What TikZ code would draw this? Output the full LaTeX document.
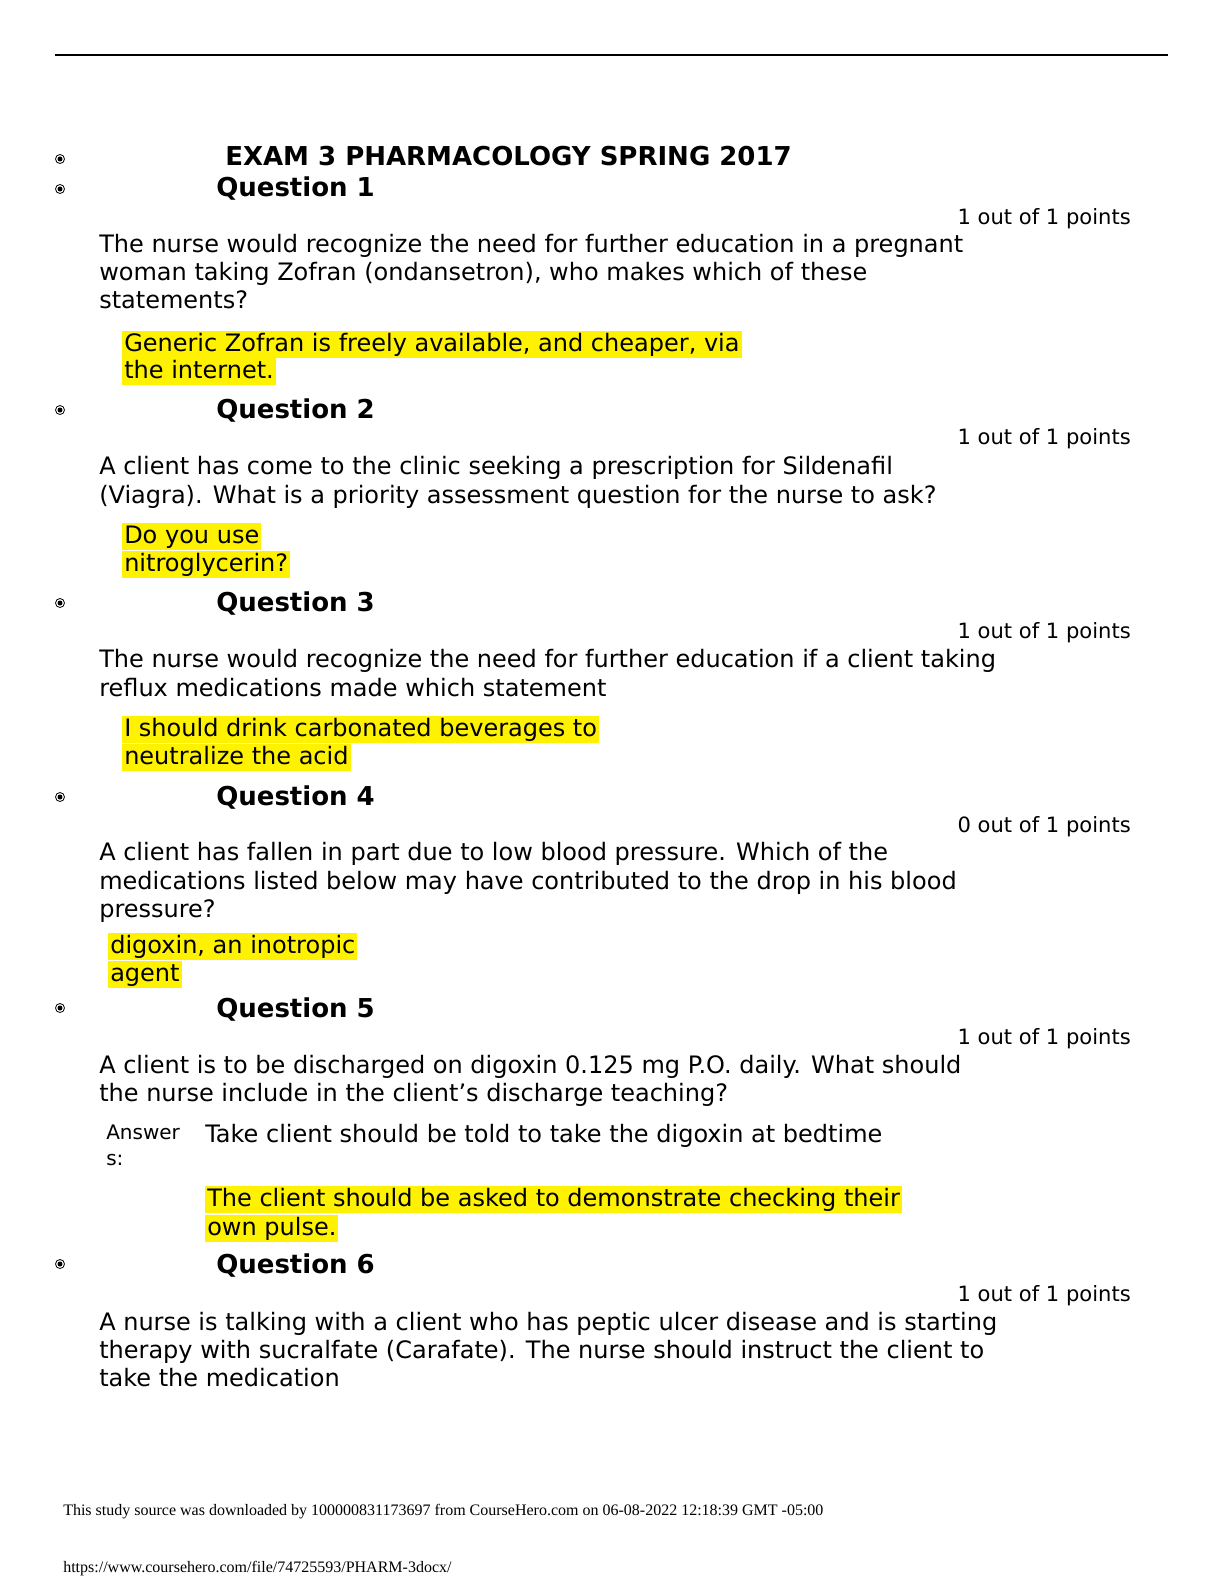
\documentclass[tikz,border=0pt]{standalone}
\usepackage{fontspec}
\setmainfont{DejaVu Sans}
\newfontfamily\foot{Liberation Serif}
\begin{document}
\begin{tikzpicture}[x=0.75pt,y=-0.75pt,
  t/.style={anchor=base west,inner sep=0pt,font=\fontsize{18}{20}\selectfont},
  h/.style={anchor=base west,inner sep=0pt,font=\fontsize{19.5}{21}\selectfont\bfseries},
  hl/.style={t,fill=yellow,inner xsep=1.5pt,inner ysep=0pt,text depth=5pt,text height=15pt},
  p/.style={anchor=base east,inner sep=0pt,font=\fontsize{15.8}{17}\selectfont},
  sm/.style={anchor=base west,inner sep=0pt,font=\fontsize{15}{16}\selectfont},
  ft/.style={anchor=base west,inner sep=0pt,font=\foot\fontsize{12}{14}\selectfont}]
\useasboundingbox (0,0) rectangle (1224,1584);
\fill[white] (0,0) rectangle (1224,1584);
\draw[line width=0.9pt] (55,55) -- (1168,55);
\newcommand{\myblt}[1]{\draw[line width=0.6pt] (60,#1) circle (4.5); \fill (60,#1) circle (2.5);}
\newcommand{\myln}[4]{\node[#1] at (#2,#3+7) {#4};}
\myblt{159}\myln{h}{225}{159}{EXAM 3 PHARMACOLOGY SPRING 2017}
\myblt{189}\myln{h}{216}{189}{Question 1}
\myln{p}{1131}{217}{1 out of 1 points}
\myln{t}{99}{245}{The nurse would recognize the need for further education in a pregnant}
\myln{t}{99}{273}{woman taking Zofran (ondansetron), who makes which of these}
\myln{t}{99}{301}{statements?}
\myln{hl}{122}{344}{Generic Zofran is freely available, and cheaper, via\ }
\myln{hl}{122}{371}{the internet.}
\myblt{410}\myln{h}{216}{411}{Question 2}
\myln{p}{1131}{437}{1 out of 1 points}
\myln{t}{99}{467}{A client has come to the clinic seeking a prescription for Sildenafil}
\myln{t}{99}{496}{(Viagra). What is a priority assessment question for the nurse to ask?}
\myln{hl}{122}{536}{Do you use\ }
\myln{hl}{122}{564}{nitroglycerin?}
\myblt{603}\myln{h}{216}{604}{Question 3}
\myln{p}{1131}{631}{1 out of 1 points}
\myln{t}{99}{660}{The nurse would recognize the need for further education if a client taking}
\myln{t}{99}{689}{reflux medications made which statement}
\myln{hl}{122}{729}{I should drink carbonated beverages to\ }
\myln{hl}{122}{757}{neutralize the acid}
\myblt{797}\myln{h}{216}{798}{Question 4}
\myln{p}{1131}{825}{0 out of 1 points}
\myln{t}{99}{853}{A client has fallen in part due to low blood pressure. Which of the}
\myln{t}{99}{882}{medications listed below may have contributed to the drop in his blood}
\myln{t}{99}{910}{pressure?}
\myln{hl}{108}{946}{digoxin, an inotropic\ }
\myln{hl}{108}{974}{agent}
\myblt{1008}\myln{h}{216}{1010}{Question 5}
\myln{p}{1131}{1037}{1 out of 1 points}
\myln{t}{99}{1066}{A client is to be discharged on digoxin 0.125 mg P.O. daily. What should}
\myln{t}{99}{1094}{the nurse include in the client’s discharge teaching?}
\myln{sm}{106}{1132}{Answer}
\myln{sm}{106}{1158}{s:}
\myln{t}{205}{1135}{Take client should be told to take the digoxin at bedtime}
\myln{hl}{205}{1199}{The client should be asked to demonstrate checking their}
\myln{hl}{205}{1228}{own pulse.}
\myblt{1264}\myln{h}{216}{1266}{Question 6}
\myln{p}{1131}{1294}{1 out of 1 points}
\myln{t}{99}{1323}{A nurse is talking with a client who has peptic ulcer disease and is starting}
\myln{t}{99}{1351}{therapy with sucralfate (Carafate). The nurse should instruct the client to}
\myln{t}{99}{1379}{take the medication}
\node[ft] at (63,1515) {This study source was downloaded by 100000831173697 from CourseHero.com on 06-08-2022 12:18:39 GMT -05:00};
\node[ft] at (63,1572) {https://www.coursehero.com/file/74725593/PHARM-3docx/};
\end{tikzpicture}
\end{document}
